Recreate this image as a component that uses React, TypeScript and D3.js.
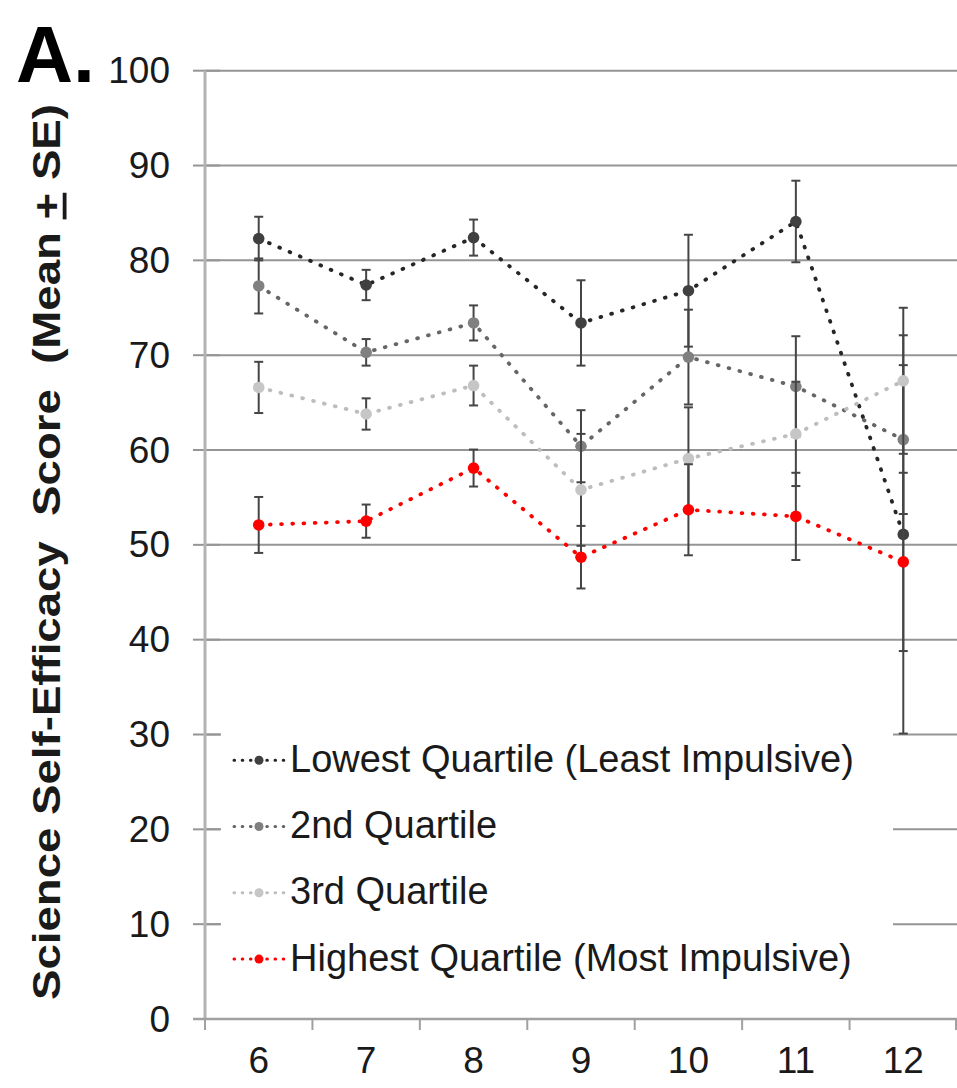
import React from 'react';
import * as d3 from 'd3';

const grades = ['6', '7', '8', '9', '10', '11', '12'];
const yTicks = [0, 10, 20, 30, 40, 50, 60, 70, 80, 90, 100];

const seriesNames = [
  'Lowest Quartile (Least Impulsive)',
  '2nd Quartile',
  '3rd Quartile',
  'Highest Quartile (Most Impulsive)',
];
const lowestMean = [82.3, 77.4, 82.4, 73.4, 76.8, 84.1, 51.1];
const lowestSE = [2.3, 1.6, 1.9, 4.5, 5.9, 4.3, 21.0];
const secondMean = [77.3, 70.3, 73.4, 60.4, 69.8, 66.7, 61.1];
const secondSE = [2.9, 1.4, 1.85, 3.8, 5.0, 5.3, 7.85];
const thirdMean = [66.6, 63.8, 66.8, 55.8, 59.1, 61.7, 67.3];
const thirdSE = [2.7, 1.65, 2.1, 5.9, 5.4, 5.5, 7.7];
const highestMean = [52.1, 52.5, 58.1, 48.7, 53.7, 53.0, 48.2];
const highestSE = [2.95, 1.75, 1.95, 3.3, 4.8, 4.6, 9.4];

const lineColors = ['#262626', '#666666', '#bdbdbd', '#ff0000'];
const markerColors = ['#404040', '#808080', '#c6c6c6', '#ff0000'];

const FONT = "'Liberation Sans', Arial, Helvetica, sans-serif";

export default function App() {
  const W = 957;
  const H = 1088;
  const x = d3.scaleBand<string>().domain(grades).range([205, 957]);
  const y = d3.scaleLinear().domain([0, 100]).range([1019, 70.7]);
  const cx = (g: string) => (x(g) as number) + x.bandwidth() / 2;

  const means = [lowestMean, secondMean, thirdMean, highestMean];
  const ses = [lowestSE, secondSE, thirdSE, highestSE];

  const line = d3
    .line<number>()
    .x((_, i) => cx(grades[i]))
    .y((d) => y(d));

  const legendBase = [771.7, 838, 904.3, 970.6];

  return (
    <svg
      width={W}
      height={H}
      style={{ position: 'absolute', left: 0, top: 0, background: '#fff' }}
      fontFamily={FONT}
    >
      <rect x={0} y={0} width={W} height={H} fill="#fff" />
      {/* gridlines */}
      {yTicks
        .filter((t) => t > 0)
        .map((t) => (
          <line key={'g' + t} x1={205} x2={957} y1={y(t)} y2={y(t)} stroke="#959595" strokeWidth={2} />
        ))}
      {/* legend background */}
      <rect x={221} y={722} width={672} height={285} fill="#fff" />
      {/* y ticks (cross) */}
      {yTicks.map((t) => (
        <line key={'t' + t} x1={193} x2={220} y1={y(t)} y2={y(t)} stroke="#959595" strokeWidth={2} />
      ))}
      {/* y axis */}
      <line x1={205} x2={205} y1={y(100)} y2={y(0)} stroke="#b3b3b3" strokeWidth={3} />
      {/* x axis */}
      <line x1={193} x2={957} y1={y(0)} y2={y(0)} stroke="#a0a0a0" strokeWidth={2.5} />
      {[...grades.map((g) => x(g) as number), 957 - 1].map((bx, i) => (
        <line key={'xt' + i} x1={bx} x2={bx} y1={y(0)} y2={y(0) + 11} stroke="#a0a0a0" strokeWidth={2} />
      ))}
      {/* y tick labels */}
      {yTicks.map((t) => (
        <text key={'yl' + t} x={170} y={y(t) + 12.5} textAnchor="end" fontSize={37} fill="#1a1a1a">
          {t}
        </text>
      ))}
      {/* x tick labels */}
      {grades.map((g) => (
        <text key={'xl' + g} x={cx(g)} y={1073} textAnchor="middle" fontSize={37} fill="#1a1a1a">
          {g}
        </text>
      ))}
      {/* series */}
      {means.map((m, si) => (
        <g key={'s' + si}>
          {m.map((v, i) => {
            const px = cx(grades[i]);
            const top = y(v + ses[si][i]);
            const bot = y(v - ses[si][i]);
            return (
              <g key={'e' + i} stroke="#454545" strokeWidth={2}>
                <line x1={px} x2={px} y1={top} y2={bot} />
                <line x1={px - 4.5} x2={px + 4.5} y1={top} y2={top} />
                <line x1={px - 4.5} x2={px + 4.5} y1={bot} y2={bot} />
              </g>
            );
          })}
          <path
            d={line(m) || ''}
            fill="none"
            stroke={lineColors[si]}
            strokeWidth={3.8}
            strokeDasharray="0.8 10.4"
            strokeLinecap="round"
          />
          {m.map((v, i) => (
            <circle key={'c' + i} cx={cx(grades[i])} cy={y(v)} r={5.8} fill={markerColors[si]} />
          ))}
        </g>
      ))}
      {/* legend */}
      {seriesNames.map((name, i) => {
        const ly = legendBase[i] - 11.5;
        return (
          <g key={'lg' + i}>
            <line
              x1={234}
              x2={285}
              y1={ly}
              y2={ly}
              stroke={lineColors[i]}
              strokeWidth={3}
              strokeDasharray="0.6 7.6"
              strokeLinecap="round"
            />
            <circle cx={259} cy={ly} r={4.5} fill={markerColors[i]} />
            <text x={290} y={legendBase[i]} fontSize={38} fill="#1a1a1a">
              {name}
            </text>
          </g>
        );
      })}
      {/* y axis title */}
      <text
        transform="translate(60, 552) rotate(-90) scale(1.2, 1)"
        textAnchor="middle"
        fontSize={38}
        fontWeight="bold"
        fill="#1a1a1a"
      >
        Science Self-Efficacy{'\u00a0 '}Score{'\u00a0 '}(Mean{' '}
        <tspan style={{ textDecoration: 'underline' }}>+</tspan>
        {' '}SE)
      </text>
      {/* panel label */}
      <text x={16} y={82} fontSize={79} fontWeight="bold" fill="#000">
        A.
      </text>
    </svg>
  );
}
